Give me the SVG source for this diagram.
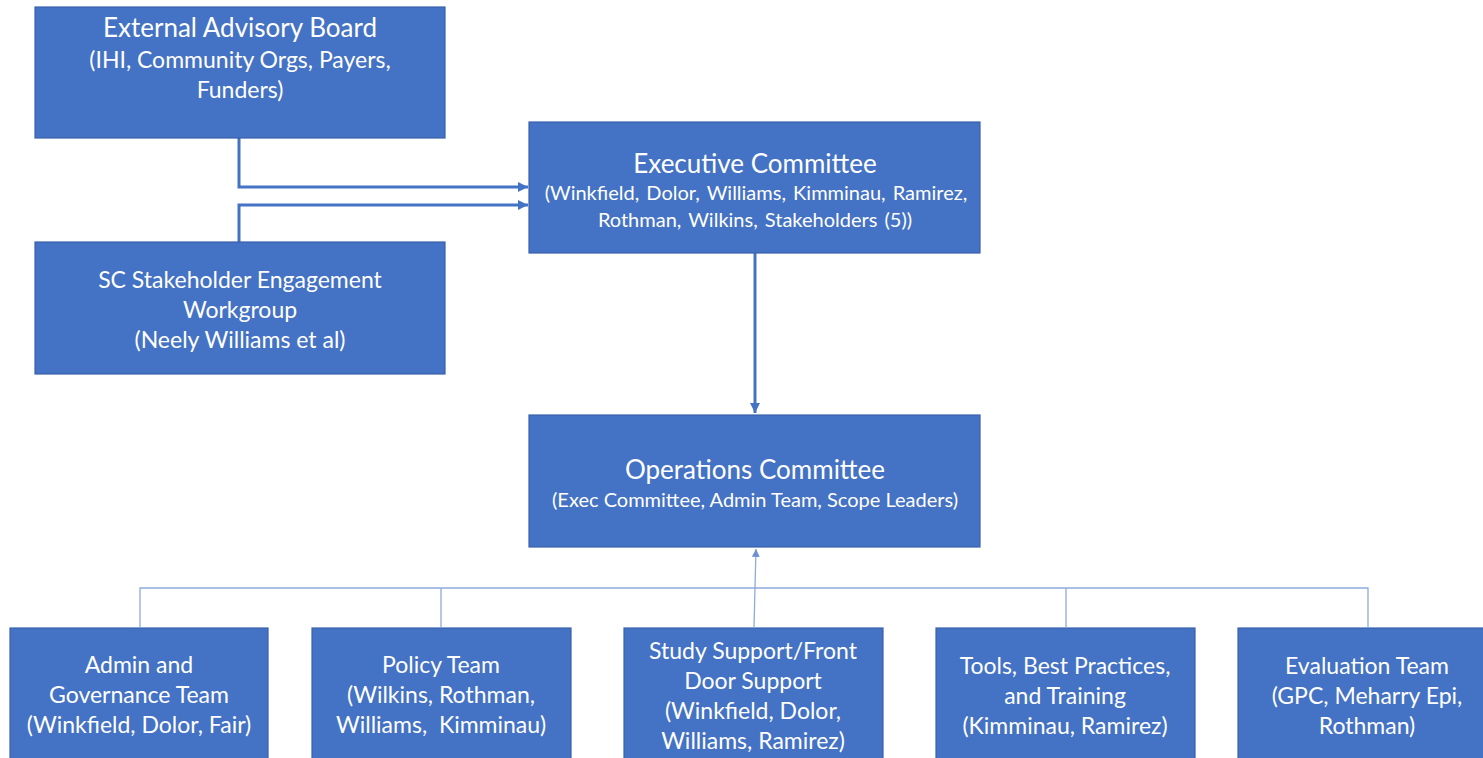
<svg xmlns="http://www.w3.org/2000/svg" width="1483" height="758" viewBox="0 0 1483 758">
<defs>
<style>
.box{fill:#4472C4;stroke:#3A62AC;stroke-width:1.2}
.t{font-family:Lato,"Open Sans","Liberation Sans",sans-serif;fill:#FFFFFF;text-anchor:middle;dominant-baseline:central}
.h{font-size:26px}
.s{font-size:20px}
.m{font-size:23px}
.c{fill:none;stroke:#4472C4;stroke-width:3}
.thin{fill:none;stroke:#8FAADC;stroke-width:1.3}
</style>
<marker id="ah" viewBox="0 0 10 10" refX="10" refY="5" markerWidth="3.4" markerHeight="3.4" orient="auto" markerUnits="strokeWidth">
<path d="M0,0 L10,5 L0,10 z" fill="#4472C4"/>
</marker>
<marker id="ahs" viewBox="0 0 10 10" refX="10" refY="5" markerWidth="6" markerHeight="6" orient="auto" markerUnits="strokeWidth">
<path d="M0,0 L10,5 L0,10 z" fill="#6E8FD0"/>
</marker>
</defs>
<g id="connectors">
<path class="c" d="M239,138 V187 H528" marker-end="url(#ah)"/>
<path class="c" d="M239,242 V205 H528" marker-end="url(#ah)"/>
<path class="c" d="M755,253 V413" marker-end="url(#ah)"/>
<path class="thin" d="M140,627 V588 H1368 V627"/>
<path class="thin" d="M441,588 V627"/>
<path class="thin" d="M1066,588 V627"/>
<path class="thin" d="M754,627 L756,549" marker-end="url(#ahs)"/>
</g>
<g id="external-advisory-board">
<rect class="box" x="35" y="7" width="410" height="131"/>
<text class="t h" x="240" y="27">External Advisory Board</text>
<text class="t m" x="240" y="59">(IHI, Community Orgs, Payers,</text>
<text class="t m" x="240" y="89">Funders)</text>
</g>
<g id="sc-stakeholder-engagement">
<rect class="box" x="35" y="242" width="410" height="132"/>
<text class="t m" x="240" y="279">SC Stakeholder Engagement</text>
<text class="t m" x="240" y="309">Workgroup</text>
<text class="t m" x="240" y="339">(Neely Williams et al)</text>
</g>
<g id="executive-committee">
<rect class="box" x="529" y="122" width="451" height="131"/>
<text class="t h" x="755" y="163">Executive Committee</text>
<text class="t s" x="756" y="192" word-spacing="2">(Winkfield, Dolor, Williams, Kimminau, Ramirez,</text>
<text class="t s" x="755" y="219" word-spacing="2">Rothman, Wilkins, Stakeholders (5))</text>
</g>
<g id="operations-committee">
<rect class="box" x="529" y="415" width="451" height="132"/>
<text class="t h" x="755" y="469">Operations Committee</text>
<text class="t s" x="755" y="499">(Exec Committee, Admin Team, Scope Leaders)</text>
</g>
<g id="admin-governance">
<rect class="box" x="10" y="628" width="258" height="140"/>
<text class="t m" x="139" y="664">Admin and</text>
<text class="t m" x="139" y="694">Governance Team</text>
<text class="t m" x="139" y="724">(Winkfield, Dolor, Fair)</text>
</g>
<g id="policy-team">
<rect class="box" x="312" y="628" width="259" height="140"/>
<text class="t m" x="441" y="664">Policy Team</text>
<text class="t m" x="441" y="694">(Wilkins, Rothman,</text>
<text class="t m" x="441" y="724" xml:space="preserve">Williams,  Kimminau)</text>
</g>
<g id="study-support">
<rect class="box" x="624" y="628" width="259" height="140"/>
<text class="t m" x="753" y="650">Study Support/Front</text>
<text class="t m" x="753" y="680">Door Support</text>
<text class="t m" x="753" y="710">(Winkfield, Dolor,</text>
<text class="t m" x="753" y="740">Williams, Ramirez)</text>
</g>
<g id="tools-best-practices">
<rect class="box" x="936" y="628" width="259" height="140"/>
<text class="t m" x="1065" y="665">Tools, Best Practices,</text>
<text class="t m" x="1065" y="695">and Training</text>
<text class="t m" x="1065" y="725">(Kimminau, Ramirez)</text>
</g>
<g id="evaluation-team">
<rect class="box" x="1238" y="628" width="259" height="140"/>
<text class="t m" x="1367" y="665">Evaluation Team</text>
<text class="t m" x="1367" y="695">(GPC, Meharry Epi,</text>
<text class="t m" x="1367" y="725">Rothman)</text>
</g>
</svg>
